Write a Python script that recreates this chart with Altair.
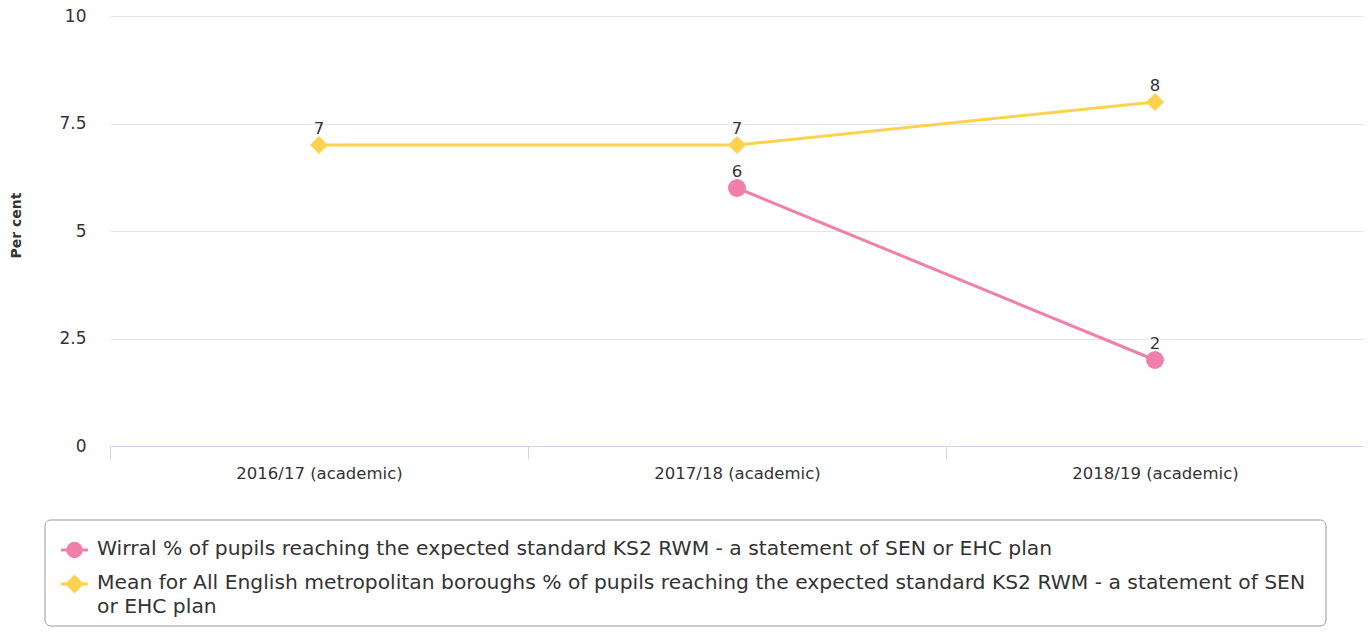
import altair as alt
import pandas as pd

years = ["2016/17 (academic)", "2017/18 (academic)", "2018/19 (academic)"]
wirral_name = "Wirral % of pupils reaching the expected standard KS2 RWM - a statement of SEN or EHC plan"
mean_name = "Mean for All English metropolitan boroughs % of pupils reaching the expected standard KS2 RWM - a statement of SEN or EHC plan"
wirral_values = [None, 6, 2]
mean_values = [7, 7, 8]
series_names = [wirral_name, mean_name]
series_colors = ["#f07fac", "#fdd24f"]
series_shapes = ["circle", "diamond"]
# legend labels as wrapped in the reference
legend_labels = [wirral_name, mean_name.replace(" or EHC plan", "\nor EHC plan")]

rows = []
for name, vals in [(wirral_name, wirral_values), (mean_name, mean_values)]:
    for y, v in zip(years, vals):
        if v is not None:
            rows.append({"year": y, "series": name, "value": v})
df = pd.DataFrame(rows)

FONT = "DejaVu Sans"

x_enc = alt.X(
    "year:N",
    sort=years,
    bandPosition=0.5,
    scale=alt.Scale(type="band", paddingInner=0, paddingOuter=0),
    axis=alt.Axis(
        title=None,
        tickBand="extent",
        domainColor="#ccd6eb",
        tickColor="#ccd6eb",
        tickSize=13,
        domainWidth=1,
        labelAngle=0,
        labelFontSize=16.5,
        labelColor="#333333",
        labelFont=FONT,
        labelPadding=6,
        grid=False,
    ),
)
y_enc = alt.Y(
    "value:Q",
    scale=alt.Scale(domain=[0, 10], nice=False),
    axis=alt.Axis(
        title="Per cent",
        values=[0, 2.5, 5, 7.5, 10],
        format=".1~f",
        domain=False,
        ticks=False,
        gridColor="#e6e6e6",
        labelFontSize=17,
        labelColor="#333333",
        labelFont=FONT,
        labelPadding=24,
        titleFont=FONT,
        titleFontSize=14,
        titleFontWeight="bold",
        titleColor="#333333",
        titleX=-94,
        titleY=209,
        titleAngle=-90,
        titleBaseline="middle",
        titleAlign="center",
    ),
)

color_scale = alt.Scale(domain=series_names, range=series_colors)

lines = alt.Chart(df).mark_line(strokeWidth=3).encode(
    x=x_enc,
    y=y_enc,
    color=alt.Color("series:N", scale=color_scale, legend=None),
)

circles = alt.Chart(df).transform_filter(
    alt.datum.series == wirral_name
).mark_point(filled=True, opacity=1, size=324).encode(
    x=x_enc,
    y=y_enc,
    color=alt.Color("series:N", scale=color_scale, legend=None),
    shape=alt.value("circle"),
)

diamonds = alt.Chart(df).transform_filter(
    alt.datum.series == mean_name
).mark_point(filled=True, opacity=1, size=330).encode(
    x=x_enc,
    y=y_enc,
    color=alt.Color("series:N", scale=color_scale, legend=None),
    shape=alt.value("diamond"),
)

labels = alt.Chart(df).mark_text(
    fontSize=16.5, font=FONT, color="#333333", baseline="alphabetic", dy=-11
).encode(
    x=x_enc,
    y=y_enc,
    text=alt.Text("value:Q", format="~g"),
)

# ---- legend box (drawn as a bordered panel below the plot) ----
LEG_LEFT, LEG_RIGHT, LEG_TOP, LEG_BOTTOM = -65, 1216, 504, 610
ROW_Y = [533, 567]
LINE_H = 23.5
SYM_X0, SYM_X1, TEXT_X = -49, -22, -13

legend_df = pd.DataFrame({"label": legend_labels, "color": series_colors})

legend_layers = [
    alt.Chart(legend_df.head(1)).mark_rect(
        fill="#ffffff", stroke="#999999", strokeWidth=1, cornerRadius=6
    ).encode(
        x=alt.value(LEG_LEFT), x2=alt.value(LEG_RIGHT),
        y=alt.value(LEG_TOP), y2=alt.value(LEG_BOTTOM),
    )
]
for i, (lab, col, shp) in enumerate(zip(legend_labels, series_colors, series_shapes)):
    one = legend_df.iloc[[i]]
    legend_layers.append(
        alt.Chart(one).mark_rule(color=col, strokeWidth=3).encode(
            x=alt.value(SYM_X0), x2=alt.value(SYM_X1), y=alt.value(ROW_Y[i] + 1)
        )
    )
    legend_layers.append(
        alt.Chart(one).mark_point(
            filled=True, opacity=1, color=col, shape=shp,
            size=270 if shp == "circle" else 360,
        ).encode(x=alt.value((SYM_X0 + SYM_X1) / 2), y=alt.value(ROW_Y[i] + 1))
    )
    legend_layers.append(
        alt.Chart(one).mark_text(
            align="left", baseline="middle", font=FONT, fontSize=20.3,
            color="#333333", lineBreak="\n", lineHeight=LINE_H,
        ).encode(
            x=alt.value(TEXT_X),
            y=alt.value(ROW_Y[i]),
            text="label:N",
        )
    )

chart = alt.layer(lines, circles, diamonds, labels, *legend_layers).properties(
    width=1254,
    height=430,
    autosize=alt.AutoSizeParams(type="none"),
    padding={"left": 102, "top": 8, "right": 0, "bottom": 181},
).configure_view(stroke=None)

chart.save("out.html", embed_options={"renderer": "svg", "actions": False})
